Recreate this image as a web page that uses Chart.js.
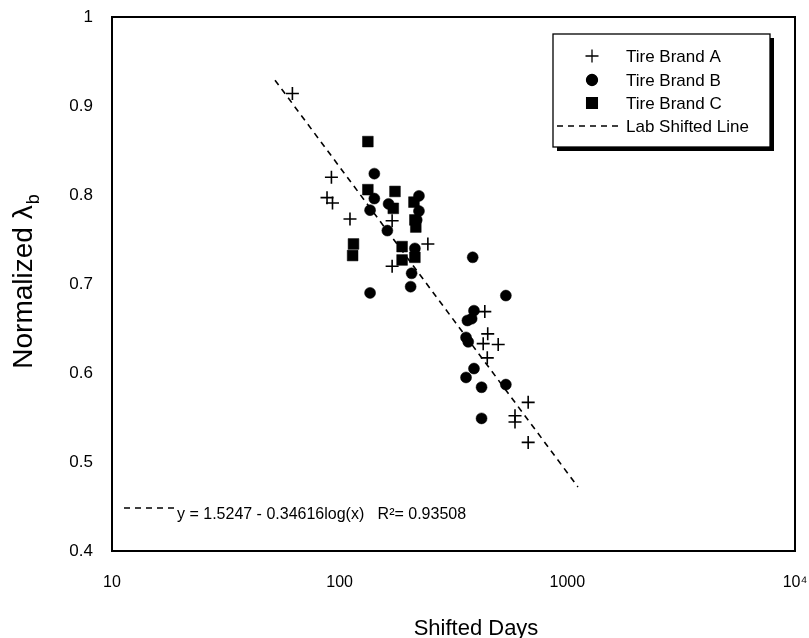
<!DOCTYPE html>
<html><head><meta charset="utf-8">
<script src="https://cdn.jsdelivr.net/npm/chart.js@4/dist/chart.umd.min.js"></script>
<style>html,body{margin:0;padding:0;background:#fff}#wrap{width:809px;height:638px}</style>
</head><body><div id="wrap"><canvas id="c" width="809" height="638"></canvas></div>
<script>
// ---- data ----
const seriesNames = ['Tire Brand A', 'Tire Brand B', 'Tire Brand C', 'Lab Shifted Line'];

const brandA_x = [62, 92, 88, 93, 111, 170, 244, 170, 434, 447, 427, 497, 445, 673, 589, 589, 673];
const brandA_y = [0.914, 0.820, 0.797, 0.791, 0.773, 0.771, 0.745, 0.720, 0.669, 0.644, 0.633, 0.632, 0.617, 0.567, 0.552, 0.545, 0.522];

const brandB_x = [142, 142, 136, 164, 162, 223, 223, 218, 214, 207, 205, 136, 384, 537, 389, 380, 364, 359, 367, 389, 359, 420, 537, 420];
const brandB_y = [0.824, 0.796, 0.783, 0.790, 0.760, 0.799, 0.782, 0.772, 0.740, 0.712, 0.697, 0.690, 0.730, 0.687, 0.670, 0.661, 0.659, 0.640, 0.635, 0.605, 0.595, 0.584, 0.587, 0.549];

const brandC_x = [133, 133, 175, 172, 115, 114, 188, 188, 212, 214, 216, 214];
const brandC_y = [0.860, 0.806, 0.804, 0.785, 0.745, 0.732, 0.742, 0.727, 0.792, 0.772, 0.764, 0.730];

const fitLine_x = [52, 1113];
const fitLine_y = [0.929, 0.472];

const xTickValues = [10, 100, 1000, 10000];
const xTickLabels = ['10', '100', '1000', '10\u2074'];
const yTickValues = [0.4, 0.5, 0.6, 0.7, 0.8, 0.9, 1];
const yTickLabels = ['0.4', '0.5', '0.6', '0.7', '0.8', '0.9', '1'];

const fitEquation = 'y = 1.5247 - 0.34616log(x)   R\u00B2= 0.93508';
const xTitle = 'Shifted Days';
const yTitleMain = 'Normalized \u03BB';
const yTitleSub = 'b';

// ---- build ----
const FONT = '"Liberation Sans", Arial, Helvetica, sans-serif';
const pts = (xs, ys) => xs.map((x, i) => ({x: x, y: ys[i]}));

Chart.defaults.color = '#000';
Chart.defaults.font.family = FONT;

const extras = {
  id: 'extras',
  afterDraw(chart) {
    const ctx = chart.ctx, a = chart.chartArea;
    ctx.save();
    // plot frame
    ctx.strokeStyle = '#000';
    ctx.lineWidth = 2;
    ctx.strokeRect(a.left, a.top, a.right - a.left, a.bottom - a.top);

    // legend box with shadow
    const lx = 553, ly = 34, lw = 217, lh = 113;
    ctx.fillStyle = '#000';
    ctx.fillRect(lx + 4, ly + 4, lw, lh);
    ctx.fillStyle = '#fff';
    ctx.fillRect(lx, ly, lw, lh);
    ctx.lineWidth = 1.3;
    ctx.strokeRect(lx, ly, lw, lh);

    const rows = [56, 80, 103, 126];
    const mx = 592, tx = 626;
    ctx.font = '17px ' + FONT;
    ctx.textBaseline = 'middle';
    ctx.textAlign = 'left';
    chart.data.datasets.forEach((ds, i) => {
      const y = rows[i];
      ctx.fillStyle = '#000';
      ctx.strokeStyle = '#000';
      if (ds.showLine === false) {
        Chart.helpers.drawPoint(ctx, {
          pointStyle: ds.pointStyle, radius: ds.pointRadius, rotation: 0,
          borderWidth: ds.borderWidth
        }, mx, y);
        if (ds.pointStyle !== 'cross') ctx.fill();
      } else {
        ctx.beginPath();
        ctx.setLineDash(ds.borderDash);
        ctx.lineWidth = ds.borderWidth;
        ctx.moveTo(557, y); ctx.lineTo(623, y);
        ctx.stroke();
        ctx.setLineDash([]);
      }
      ctx.fillStyle = '#000';
      ctx.fillText(ds.label, tx, y + 1);
    });

    // equation annotation
    ctx.beginPath();
    ctx.setLineDash([6, 5]);
    ctx.lineWidth = 1.5;
    ctx.moveTo(124, 508); ctx.lineTo(174, 508);
    ctx.stroke();
    ctx.setLineDash([]);
    ctx.font = '16px ' + FONT;
    ctx.textBaseline = 'alphabetic';
    ctx.fillText(fitEquation, 177, 519);

    // x title
    ctx.font = '22px ' + FONT;
    ctx.textAlign = 'center';
    ctx.fillText(xTitle, 476, 635);

    // y title with subscript
    ctx.translate(32, 282);
    ctx.rotate(-Math.PI / 2);
    ctx.textAlign = 'left';
    ctx.font = '28px ' + FONT;
    const w1 = ctx.measureText(yTitleMain).width;
    ctx.font = '18px ' + FONT;
    const w2 = ctx.measureText(yTitleSub).width;
    const start = -(w1 + w2) / 2;
    ctx.font = '28px ' + FONT;
    ctx.fillText(yTitleMain, start, 0);
    ctx.font = '18px ' + FONT;
    ctx.fillText(yTitleSub, start + w1 + 1, 7);
    ctx.restore();
  }
};

new Chart(document.getElementById('c'), {
  type: 'scatter',
  data: {
    datasets: [
      {label: seriesNames[0], data: pts(brandA_x, brandA_y), pointStyle: 'cross', pointRadius: 6.5,
       borderColor: '#000', backgroundColor: '#000', borderWidth: 1.6, showLine: false},
      {label: seriesNames[1], data: pts(brandB_x, brandB_y), pointStyle: 'circle', pointRadius: 5.5,
       borderColor: '#000', backgroundColor: '#000', borderWidth: 0.5, showLine: false},
      {label: seriesNames[2], data: pts(brandC_x, brandC_y), pointStyle: 'rect', pointRadius: 7.6,
       borderColor: '#000', backgroundColor: '#000', borderWidth: 0.5, showLine: false},
      {label: seriesNames[3], type: 'line', data: pts(fitLine_x, fitLine_y), borderColor: '#000',
       borderWidth: 1.6, borderDash: [6, 5], pointRadius: 0, fill: false, showLine: true}
    ]
  },
  options: {
    responsive: false,
    animation: false,
    devicePixelRatio: 1,
    layout: {padding: {top: 17, right: 14, left: 0, bottom: 0}},
    plugins: {legend: {display: false}, tooltip: {enabled: false}, title: {display: false}},
    scales: {
      x: {
        type: 'logarithmic', min: 10, max: 10000, position: 'bottom',
        grid: {display: false, drawTicks: false}, border: {display: false},
        afterBuildTicks: (ax) => { ax.ticks = xTickValues.map(v => ({value: v})); },
        afterFit: (ax) => { ax.height = 87; ax.paddingLeft = 0; ax.paddingRight = 0; },
        ticks: {
          autoSkip: false, maxRotation: 0, padding: 22,
          font: {size: 16, family: FONT}, color: '#000',
          callback: (v) => { const i = xTickValues.indexOf(v); return i >= 0 ? xTickLabels[i] : ''; }
        }
      },
      y: {
        type: 'linear', min: 0.4, max: 1,
        grid: {display: false, drawTicks: false}, border: {display: false},
        afterBuildTicks: (ax) => { ax.ticks = yTickValues.map(v => ({value: v})); },
        afterFit: (ax) => { ax.width = 112; ax.paddingTop = 0; ax.paddingBottom = 0; },
        ticks: {
          autoSkip: false, padding: 19,
          font: {size: 17, family: FONT}, color: '#000',
          callback: (v) => { const i = yTickValues.findIndex(t => Math.abs(t - v) < 1e-9); return i >= 0 ? yTickLabels[i] : ''; }
        }
      }
    }
  },
  plugins: [extras]
});
</script></body></html>
